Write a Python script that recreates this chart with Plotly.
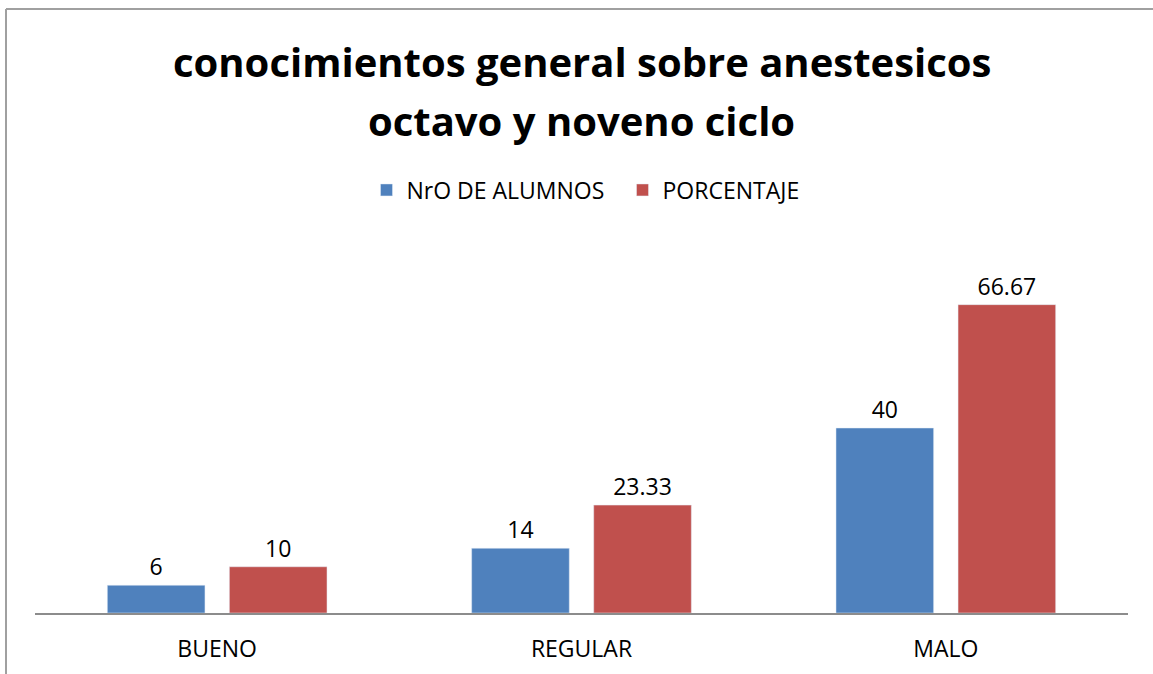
import plotly.graph_objects as go

categories = ["BUENO", "REGULAR", "MALO"]
alumnos = [6, 14, 40]
porcentaje = [10, 23.33, 66.67]
alumnos_labels = ["6", "14", "40"]
porcentaje_labels = ["10", "23.33", "66.67"]

W, H = 1153, 674
L, R, T, B = 35, 25, 243, 61
pw, ph = W - L - R, H - T - B

def px_x(x):
    return (x - L) / pw

def px_y(y):
    return (H - B - y) / ph

font = "Open Sans"
fs = 23
fig = go.Figure()
fig.add_trace(go.Bar(x=categories, y=alumnos, name="NrO DE ALUMNOS",
                     marker_color="#4F81BD", text=alumnos_labels,
                     textposition="outside", cliponaxis=False,
                     textfont=dict(size=fs, color="black", family=font)))
fig.add_trace(go.Bar(x=categories, y=porcentaje, name="PORCENTAJE",
                     marker_color="#C0504D", text=porcentaje_labels,
                     textposition="outside", cliponaxis=False,
                     textfont=dict(size=fs, color="black", family=font)))

fig.update_layout(
    width=W, height=H,
    margin=dict(l=L, r=R, t=T, b=B, autoexpand=False),
    paper_bgcolor="white", plot_bgcolor="white",
    barmode="group", bargap=0.33, bargroupgap=0.2,
    font=dict(family=font, size=fs, color="black"),
    showlegend=True,
    legend=dict(orientation="h", x=0.5 + 41 / pw, xanchor="center", y=px_y(190), yanchor="middle",
                font=dict(size=fs, family=font), entrywidth=211, entrywidthmode="pixels",
                traceorder="normal"),
    xaxis=dict(showline=True, linecolor="#8C8C8C", linewidth=2, ticks="",
               tickfont=dict(size=fs, family=font, color="black"), ticklabelstandoff=14,
               showgrid=False),
    yaxis=dict(range=[0, 80], visible=False, showgrid=False),
    annotations=[
        dict(text="<b>conocimientos general sobre anestesicos</b>", x=0.5, xref="paper",
             y=px_y(62), yref="paper", showarrow=False, xanchor="center", yanchor="middle",
             font=dict(size=40, family=font, color="black")),
        dict(text="<b>octavo y noveno ciclo</b>", x=0.5, xref="paper",
             y=px_y(120), yref="paper", showarrow=False, xanchor="center", yanchor="middle",
             font=dict(size=40, family=font, color="black")),
    ],
    shapes=[
        dict(type="line", xref="paper", yref="paper", x0=px_x(6), x1=px_x(6),
             y0=px_y(9), y1=px_y(680), line=dict(color="#A0A0A0", width=2)),
        dict(type="line", xref="paper", yref="paper", x0=px_x(6), x1=px_x(1160),
             y0=px_y(9), y1=px_y(9), line=dict(color="#A0A0A0", width=2)),
    ],
)

fig.write_html("out.html", config={"displayModeBar": False},
               post_script="document.body.style.margin='0';document.body.style.overflow='hidden';")
